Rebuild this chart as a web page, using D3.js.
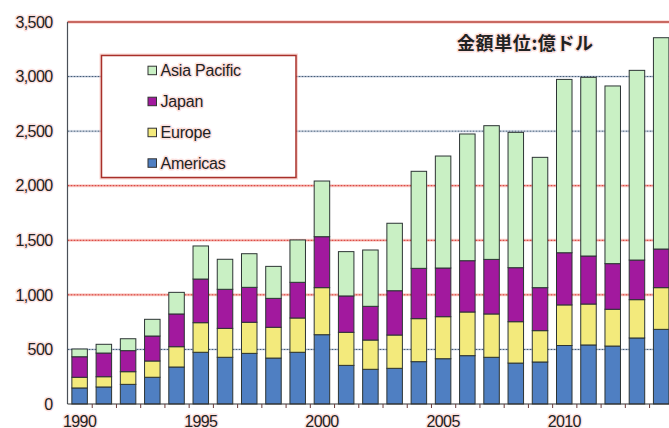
<!DOCTYPE html>
<html>
<head>
<meta charset="utf-8">
<script src="https://cdn.jsdelivr.net/npm/d3@7"></script>
<style>
  html, body { margin: 0; padding: 0; background: #fff; }
  svg { display: block; }
  .lbl { font-family: "Liberation Sans", Arial, sans-serif; fill: #222; }
  .halo { paint-order: stroke; stroke: rgba(250, 190, 185, 0.45); stroke-width: 3px; stroke-linejoin: round; }
</style>
</head>
<body>
<svg id="chart" width="669" height="428"></svg>
<script>
// Semiconductor sales by region (units: 100 million USD)
const years = [1990, 1991, 1992, 1993, 1994, 1995, 1996, 1997, 1998, 1999,
               2000, 2001, 2002, 2003, 2004, 2005, 2006, 2007, 2008, 2009,
               2010, 2011, 2012, 2013, 2014];
const americas    = [147, 156, 180, 245, 339, 474, 428, 464, 421, 474,
                     635, 354, 318, 327, 388, 415, 443, 428, 375, 385,
                     536, 541, 531, 605, 684];
const europe      = [98, 94, 116, 149, 186, 271, 265, 285, 282, 314,
                     431, 303, 268, 305, 394, 385, 400, 397, 379, 287,
                     372, 375, 337, 351, 382];
const japan       = [188, 217, 193, 229, 300, 400, 358, 320, 265, 327,
                     467, 333, 309, 406, 461, 446, 470, 500, 495, 394,
                     478, 440, 418, 363, 354];
const asiaPacific = [71, 80, 109, 153, 198, 303, 275, 308, 293, 388,
                     510, 406, 516, 618, 889, 1026, 1161, 1225, 1240, 1194,
                     1588, 1637, 1628, 1738, 1936];

const seriesNames  = ["Americas", "Europe", "Japan", "Asia Pacific"];
const seriesValues = [americas, europe, japan, asiaPacific];
const seriesColors = ["#4f7fc2", "#f3ea7c", "#a2199e", "#c9f0c4"];
const yTicks       = [0, 500, 1000, 1500, 2000, 2500, 3000, 3500];
const xTickLabels  = [1990, 1995, 2000, 2005, 2010];
const unitLabel    = "金額単位:億ドル";

(function () {
const svg = d3.select("#chart");
const plotLeft = 67.5, plotTop = 22, plotBottom = 404, plotRight = 673.3;

const x = d3.scaleBand()
  .domain(years)
  .range([plotLeft, plotRight])
  .paddingInner(0.36)
  .paddingOuter(0.18);

const y = d3.scaleLinear().domain([0, 3500]).range([plotBottom, plotTop]);

// Rows for the stack, one per year
const rows = years.map((yr, i) => {
  const r = { year: yr };
  seriesNames.forEach((n, k) => { r[n] = seriesValues[k][i]; });
  return r;
});
const stacked = d3.stack().keys(seriesNames)(rows);

// Horizontal gridlines
const redLines = new Set([1000, 1500, 2000]);
const grid = svg.append("g");
yTicks.filter(t => t > 0 && t < 3500).forEach(t => {
  const isRed = redLines.has(t);
  grid.append("line")
    .attr("x1", plotLeft).attr("x2", 669)
    .attr("y1", y(t)).attr("y2", y(t))
    .attr("stroke", isRed ? "rgba(240,120,110,0.35)" : "rgba(200,210,230,0.35)")
    .attr("stroke-width", 3);
  grid.append("line")
    .attr("x1", plotLeft).attr("x2", 669)
    .attr("y1", y(t)).attr("y2", y(t))
    .attr("stroke", isRed ? "#d42a22" : "#3a5470")
    .attr("stroke-width", 1)
    .attr("stroke-dasharray", "2,1");
});
// Top border line at 3,500
svg.append("line")
  .attr("x1", plotLeft).attr("x2", 669)
  .attr("y1", y(3500)).attr("y2", y(3500))
  .attr("stroke", "rgba(240,150,140,0.4)").attr("stroke-width", 3.5);
svg.append("line")
  .attr("x1", plotLeft).attr("x2", 669)
  .attr("y1", y(3500)).attr("y2", y(3500))
  .attr("stroke", "#b8453c").attr("stroke-width", 1.4);

// Stacked bars
svg.append("g")
  .selectAll("g")
  .data(stacked)
  .join("g")
  .attr("fill", (d, i) => seriesColors[i])
  .selectAll("rect")
  .data(d => d)
  .join("rect")
  .attr("x", d => x(d.data.year))
  .attr("y", d => y(d[1]))
  .attr("width", x.bandwidth())
  .attr("height", d => y(d[0]) - y(d[1]))
  .attr("stroke", "#2c3434")
  .attr("stroke-width", 1);

// Axes
svg.append("line")
  .attr("x1", plotLeft).attr("x2", plotLeft)
  .attr("y1", y(3500)).attr("y2", plotBottom)
  .attr("stroke", "#4a5058").attr("stroke-width", 1.2);
svg.append("line")
  .attr("x1", plotLeft).attr("x2", 669)
  .attr("y1", plotBottom).attr("y2", plotBottom)
  .attr("stroke", "#333").attr("stroke-width", 1.2);

// Tick marks between bars on the x axis
const step = x.step();
svg.append("g")
  .selectAll("line")
  .data(years.slice(1))
  .join("line")
  .attr("x1", d => x(d) - step * 0.18 + 0.5)
  .attr("x2", d => x(d) - step * 0.18 + 0.5)
  .attr("y1", plotBottom).attr("y2", plotBottom + 4)
  .attr("stroke", "#6a3a3a").attr("stroke-width", 1);

// Y tick labels
svg.append("g")
  .selectAll("text")
  .data(yTicks)
  .join("text")
  .attr("class", "lbl halo")
  .attr("x", 52.5)
  .attr("y", d => y(d))
  .attr("dy", "0.36em")
  .attr("text-anchor", "end")
  .style("font-size", "16px")
  .style("letter-spacing", "-0.6px")
  .text(d3.format(","));

// X tick labels
svg.append("g")
  .selectAll("text")
  .data(xTickLabels)
  .join("text")
  .attr("class", "lbl halo")
  .attr("x", d => x(d) + x.bandwidth() / 2)
  .attr("y", 426.5)
  .attr("text-anchor", "middle")
  .style("font-size", "16px")
  .style("letter-spacing", "-0.6px")
  .text(d => d);

// Unit label
svg.append("text")
  .attr("class", "halo")
  .attr("x", 457)
  .attr("y", 49.5)
  .style("font-family", "'Noto Sans CJK JP', sans-serif")
  .style("font-size", "18px")
  .style("font-weight", "bold")
  .style("letter-spacing", "0.6px")
  .style("fill", "#222")
  .text(unitLabel);

// Legend
const legend = svg.append("g");
legend.append("rect")
  .attr("x", 101.5).attr("y", 55.5)
  .attr("width", 194.5).attr("height", 122)
  .attr("fill", "#fff")
  .attr("stroke", "rgba(240,150,140,0.4)").attr("stroke-width", 4);
legend.append("rect")
  .attr("x", 101.5).attr("y", 55.5)
  .attr("width", 194.5).attr("height", 122)
  .attr("fill", "#fff")
  .attr("stroke", "#a8302a").attr("stroke-width", 1.5);

const legendOrder = [3, 2, 1, 0];
const legendRowY = [70.7, 101.7, 132.7, 163.3];
legendOrder.forEach((k, i) => {
  legend.append("rect")
    .attr("x", 148).attr("y", legendRowY[i] - 4.5)
    .attr("width", 8.5).attr("height", 8.5)
    .attr("fill", seriesColors[k])
    .attr("stroke", "#333").attr("stroke-width", 1);
  legend.append("text")
    .attr("class", "lbl halo")
    .attr("x", 160.5)
    .attr("y", legendRowY[i])
    .attr("dy", "0.36em")
    .style("font-size", "16px")
    .style("letter-spacing", "-0.2px")
    .text(seriesNames[k]);
});
})();
</script>
</body>
</html>
